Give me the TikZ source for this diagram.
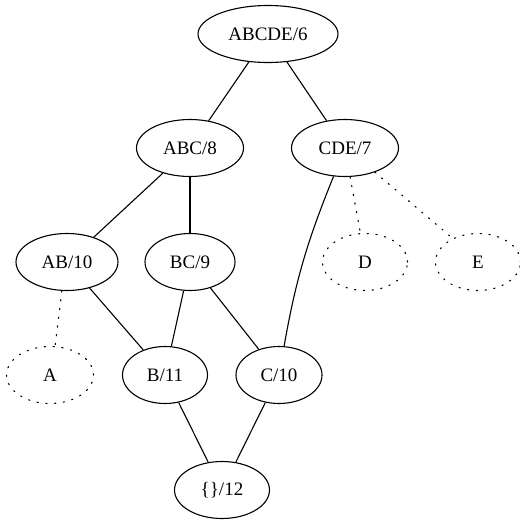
\documentclass[tikz,border=0pt]{standalone}
\usepackage{fontspec}
\setmainfont{Liberation Serif}
\usetikzlibrary{shapes.geometric}
\tikzset{
  nd/.style={draw, ellipse, line width=1.1pt, inner sep=0pt, minimum height=57pt,
    font=\fontsize{19}{22}\selectfont},
  dnd/.style={nd, dash pattern=on 1.3pt off 7.5pt, line cap=round},
  edge/.style={line width=1.1pt},
  dedge/.style={line width=1.1pt, dash pattern=on 1.3pt off 7.5pt, line cap=round}
}
\begin{document}
\begin{tikzpicture}[x={(1pt,0)}, y={(0,-1pt)}]
\useasboundingbox (0,0) rectangle (519,521);
\node[nd, minimum width=140pt] (abcde) at (268,34) {ABCDE/6};
\node[nd, minimum width=107pt] (abc) at (190,148) {ABC/8};
\node[nd, minimum width=107pt] (cde) at (345,148) {CDE/7};
\node[nd, minimum width=102pt] (ab) at (67,262) {AB/10};
\node[nd, minimum width=90pt] (bc) at (190,262) {BC/9};
\node[dnd, minimum width=85pt] (d) at (365,262) {D};
\node[dnd, minimum width=85pt] (e) at (478,262) {E};
\node[dnd, minimum width=87pt] (a) at (50,375) {A};
\node[nd, minimum width=85pt] (b) at (165,375) {B/11};
\node[nd, minimum width=86pt] (c) at (279,375) {C/10};
\node[nd, minimum width=95pt] (empty) at (222,490) {\{\}/12};

\draw[edge] (abcde) -- (abc);
\draw[edge] (abcde) -- (cde);
\draw[edge] (abc) -- (ab);
\draw[edge] (abc) -- (bc);
\draw[edge] (cde) to[out=-112, in=80] (c);
\draw[dedge] (cde.-80) -- (d.99);
\draw[dedge] (cde.-39) -- (e.137);
\draw[dedge] (ab.-100) -- (a.80);
\draw[edge] (ab) -- (b);
\draw[edge] (bc) -- (b);
\draw[edge] (bc) -- (c);
\draw[edge] (b) -- (empty);
\draw[edge] (c) -- (empty);
\end{tikzpicture}
\end{document}
